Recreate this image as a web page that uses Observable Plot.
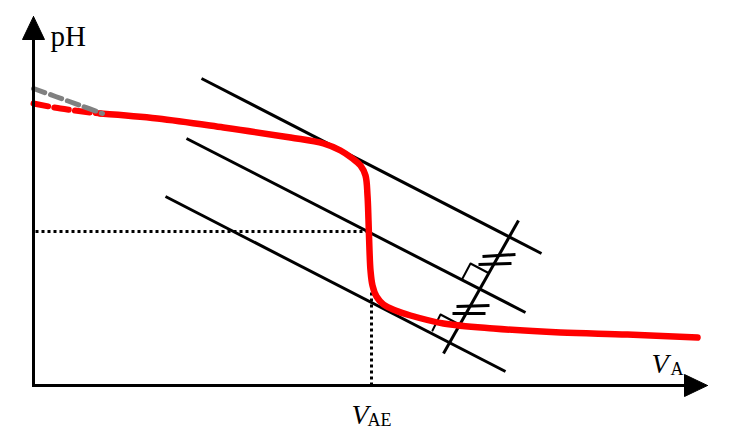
<!DOCTYPE html>
<html>
<head>
<meta charset="utf-8">
<script src="https://cdn.jsdelivr.net/npm/d3@7"></script>
<script src="https://cdn.jsdelivr.net/npm/@observablehq/plot@0.6"></script>
<style>
  html, body { margin: 0; padding: 0; background: #fff; }
</style>
</head>
<body>
<div id="chart"></div>
<script>
// Titration curve (pH vs added volume V_A), arbitrary units
const curveVol   = [67, 124, 190, 257, 290, 307, 319, 327, 332, 334, 335, 336, 337, 339, 343, 350, 362, 377, 410, 460, 527, 594, 664];
const curvePH    = [272, 267, 258, 248, 242, 235, 227, 220, 210, 190, 165, 135, 115, 100, 89, 81, 75, 70, 62, 57, 53, 51, 48];
const curveDashVol = [0, 27, 57, 67];
const curveDashPH  = [282, 277, 273, 272];
const grayVol    = [0, 22, 47, 69];
const grayPH     = [297, 289, 280, 272];

// parallel tangent lines (start/end)
const tangentName = ["upper", "middle", "lower"];
const tangentX1 = [168, 153, 132];
const tangentY1 = [307, 247, 189];
const tangentX2 = [508, 492, 472];
const tangentY2 = [132, 73, 14];

// perpendicular line
const perpX = [410, 485];
const perpY = [32, 165];

// right-angle markers
const rightAngleX = [[429, 437, 454], [399, 407, 424]];
const rightAngleY = [[107, 122, 113], [55, 71, 62]];

// equal-distance hash marks
const hashX1 = [449, 445, 423, 419];
const hashY1 = [129, 121, 79, 72];
const hashX2 = [482, 478, 456, 452];
const hashY2 = [131, 122, 80, 72];

// equivalence point
const equivVol = 338;
const equivPH = 154;

// axes extent
const xAxisEnd = 674;
const yAxisEnd = 369;
const arrowLen = 23;
const arrowHalf = 11;

const labelFont = "Liberation Serif";

const tangents = tangentName.map((n, i) => ({n, x1: tangentX1[i], y1: tangentY1[i], x2: tangentX2[i], y2: tangentY2[i]}));
const hashes = hashX1.map((x, i) => ({x1: x, y1: hashY1[i], x2: hashX2[i], y2: hashY2[i]}));
const curve = curveVol.map((x, i) => ({x, y: curvePH[i]}));
const curveDash = curveDashVol.map((x, i) => ({x, y: curveDashPH[i]}));
const gray = grayVol.map((x, i) => ({x, y: grayPH[i]}));
const rightAngles = rightAngleX.flatMap((xs, k) => xs.map((x, i) => ({k, x, y: rightAngleY[k][i]})));

const xArrow = [
  {x: xAxisEnd, y: 0},
  {x: xAxisEnd - arrowLen, y: arrowHalf},
  {x: xAxisEnd - arrowLen, y: -arrowHalf},
  {x: xAxisEnd, y: 0}
];
const yArrow = [
  {x: 0, y: yAxisEnd},
  {x: arrowHalf, y: yAxisEnd - arrowLen},
  {x: -arrowHalf, y: yAxisEnd - arrowLen},
  {x: 0, y: yAxisEnd}
];

const chart = Plot.plot({
  width: 736,
  height: 443,
  margin: 0,
  x: {domain: [0, 700], range: [33, 733], axis: null},
  y: {domain: [0, 385], range: [385, 0], axis: null},
  marks: [
    // dotted guides
    Plot.link([{}], {x1: 2, y1: equivPH, x2: equivVol - 3, y2: equivPH, stroke: "black", strokeWidth: 3, strokeDasharray: "3,3"}),
    Plot.link([{}], {x1: equivVol, y1: 0, x2: equivVol, y2: 96, stroke: "black", strokeWidth: 3, strokeDasharray: "3,3"}),
    // tangents
    Plot.link(tangents, {x1: "x1", y1: "y1", x2: "x2", y2: "y2", stroke: "black", strokeWidth: 3}),
    Plot.link([{}], {x1: perpX[0], y1: perpY[0], x2: perpX[1], y2: perpY[1], stroke: "black", strokeWidth: 3}),
    Plot.line(rightAngles, {x: "x", y: "y", z: "k", stroke: "black", strokeWidth: 2}),
    Plot.link(hashes, {x1: "x1", y1: "y1", x2: "x2", y2: "y2", stroke: "black", strokeWidth: 3}),
    // curve
    Plot.line(curveDash, {x: "x", y: "y", stroke: "#ff0000", strokeWidth: 6, strokeDasharray: "15,6", curve: "catmull-rom"}),
    Plot.line(curve, {x: "x", y: "y", stroke: "#ff0000", strokeWidth: 6.5, curve: "catmull-rom"}),
    Plot.line(gray, {x: "x", y: "y", stroke: "#808080", strokeWidth: 5, strokeDasharray: "12,6", curve: "catmull-rom"}),
    // axes
    Plot.link([{}], {x1: 0, y1: -1, x2: 0, y2: yAxisEnd - arrowLen + 2, stroke: "black", strokeWidth: 3}),
    Plot.link([{}], {x1: -1.5, y1: 0, x2: xAxisEnd - arrowLen + 2, y2: 0, stroke: "black", strokeWidth: 3}),
    Plot.line(xArrow, {x: "x", y: "y", fill: "black", stroke: "black", strokeWidth: 1}),
    Plot.line(yArrow, {x: "x", y: "y", fill: "black", stroke: "black", strokeWidth: 1}),
    // labels
    Plot.text(["pH"], {x: 17, y: 340, text: d => d, textAnchor: "start", lineAnchor: "bottom", fontSize: 29, fontFamily: labelFont, fill: "black"}),
    Plot.text(["V"], {x: 618, y: 13, text: d => d, textAnchor: "start", lineAnchor: "bottom", fontSize: 28, fontStyle: "italic", fontFamily: labelFont, fill: "black"}),
    Plot.text(["A"], {x: 637, y: 11, text: d => d, textAnchor: "start", lineAnchor: "bottom", fontSize: 18, fontFamily: labelFont, fill: "black"}),
    Plot.text(["V"], {x: 318, y: -38, text: d => d, textAnchor: "start", lineAnchor: "bottom", fontSize: 28, fontStyle: "italic", fontFamily: labelFont, fill: "black"}),
    Plot.text(["AE"], {x: 334, y: -40, text: d => d, textAnchor: "start", lineAnchor: "bottom", fontSize: 18, fontFamily: labelFont, fill: "black"})
  ]
});
document.getElementById("chart").appendChild(chart);
</script>
</body>
</html>
